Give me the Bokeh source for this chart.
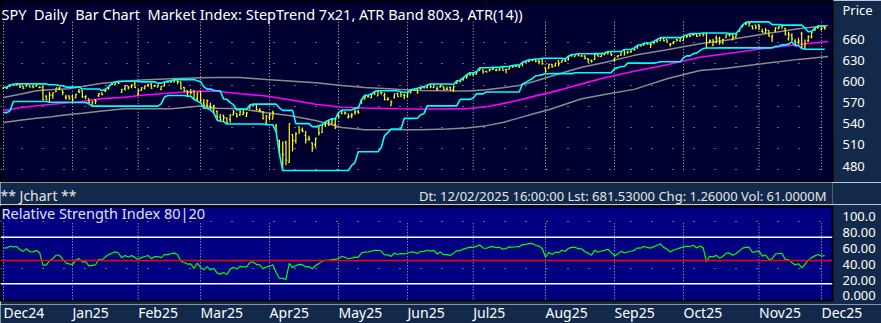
import numpy as np
import pandas as pd
from bokeh.plotting import figure
from bokeh.layouts import column, row
from bokeh.models import Range1d, FixedTicker, Label, Span
from bokeh.embed import file_html
from bokeh.resources import INLINE

FONT = "Noto Sans"
NAVY = "#13294B"
TOP_BG = "#000030"
RSI_BG = "#000080"

# ---------------- data ----------------
month_labels = ["Dec24", "Jan25", "Feb25", "Mar25", "Apr25", "May25", "Jun25",
                "Jul25", "Aug25", "Sep25", "Oct25", "Nov25", "Dec25"]
month_start = [0, 21, 41, 60, 81, 102, 123, 143, 165, 186, 207, 230, 249]

# Oct 2024 closes (only used to warm up the RSI)
warm_close = [568.6, 568.9, 567.8, 572.98, 567.8, 573.2, 577.1, 575.9, 579.6, 584.3, 579.8, 582.3,
              582.35, 584.6, 583.6, 583.3, 577.99, 579.2, 579.0, 580.8, 581.8, 580.0, 568.6]
# Nov 2024 bars (before the visible window, used to start the indicators)
pre_high = [575.5, 572.5, 576.7, 591.9, 596.7, 599.6, 600.2, 599.3, 599.2, 597.8,
            590.2, 589.5, 591.0, 590.8, 595.1, 596.2, 600.9, 601.3, 600.9, 603.4]
pre_low = [570.6, 567.9, 570.5, 585.4, 592.9, 596.2, 597.0, 594.4, 595.2, 592.7,
           583.9, 585.3, 584.6, 583.9, 587.5, 593.2, 595.4, 598.1, 597.1, 599.4]
pre_close = [571.0, 569.8, 576.7, 591.0, 595.6, 598.2, 598.8, 596.9, 597.2, 593.4,
             585.75, 588.15, 590.3, 590.5, 593.7, 595.5, 597.5, 600.65, 598.8, 602.55]

open_ = [
    # Dec 2024
    602.97, 603.4, 605.6, 607.7, 607.4, 607.7, 605.4, 605.8, 606.6, 606.4, 606.0, 604.2, 604.0, 591.4, 581.8, 590.9, 596.1, 599.5, 597.5, 587.9, 589.9,
    # Jan
    589.4, 587.5, 596.3, 597.4, 588.7, 585.9, 575.8, 584.4, 590.3, 594.2, 597.0, 600.7, 605.9, 605.8, 609.8, 594.8, 600.6, 603.7, 604.0, 607.5,
    # Feb
    592.7, 597.8, 600.6, 605.0, 606.9, 604.0, 602.5, 599.2, 604.5, 609.9, 610.9, 610.1, 611.5, 610.2, 602.0, 597.2, 595.9, 596.9, 585.6,
    # Mar
    596.2, 579.7, 576.7, 575.5, 570.9, 567.6, 559.4, 562.2, 558.5, 556.1, 562.8, 564.8, 562.8, 563.3, 559.3, 570.8, 575.3, 575.2, 567.2, 565.5, 549.8,
    # Apr
    557.5, 555.1, 545.1, 523.7, 489.2, 521.9, 493.4, 533.0, 523.9, 544.1, 539.7, 531.7, 527.6, 521.2, 519.1, 542.4, 535.9, 547.2, 551.4, 548.9, 547.6,
    # May
    560.4, 563.0, 563.4, 557.9, 560.1, 565.1, 566.5, 581.5, 583.4, 587.8, 585.6, 591.3, 588.1, 593.1, 588.4, 582.7, 574.2, 586.1, 592.0, 593.0, 588.9,
    # Jun
    587.8, 592.3, 597.0, 597.6, 598.7, 600.2, 600.0, 604.7, 600.0, 598.5, 600.9, 600.9, 598.0, 598.4, 595.0, 604.3, 607.9, 609.0, 612.9, 617.4,
    # Jul
    616.4, 617.2, 622.45, 623.4, 621.35, 622.8, 624.2, 622.7, 623.2, 627.5, 623.7, 624.4, 629.3, 628.8, 629.1, 631.55, 634.6, 635.1, 637.5, 638.35, 635.9, 639.5,
    # Aug
    626.3, 625.7, 631.3, 629.0, 636.2, 634.0, 637.5, 638.3, 644.6, 642.2, 645.9, 642.9, 643.1, 639.4, 636.3, 637.8, 644.6, 642.3, 644.6, 647.2, 647.5,
    # Sep
    637.5, 642.7, 644.4, 651.5, 648.6, 648.9, 653.6, 654.2, 657.6, 658.5, 661.6, 660.0, 662.6, 662.3, 662.9, 666.7, 664.5, 657.9, 659.5, 664.4, 662.9,
    # Oct
    663.2, 671.0, 670.0, 671.7, 672.5, 670.3, 673.5, 672.9, 660.6, 657.2, 666.8, 666.8, 659.5, 667.3, 671.4, 672.0, 668.1, 676.5, 682.9, 687.0, 688.7, 683.9, 685.0,
    # Nov
    685.7, 676.1, 674.0, 677.7, 667.9, 677.2, 679.9, 684.8, 680.5, 665.4, 669.7, 662.1, 660.8, 672.9, 655.1, 662.7, 668.4, 677.6, 680.9,
    # Dec 2025
    679.0, 681.7,
]
high = [
    604.3, 604.2, 607.9, 608.5, 609.1, 607.9, 605.8, 609.1, 607.2, 607.2, 607.8, 605.2, 606.4, 593.0, 595.75, 594.5, 601.3, 602.5, 597.8, 591.7, 590.6,
    591.1, 592.6, 599.7, 597.75, 590.6, 585.95, 581.8, 585.0, 593.9, 594.35, 599.4, 603.1, 607.8, 609.75, 610.8, 599.7, 605.4, 604.1, 606.6, 610.0,
    600.3, 602.3, 604.4, 606.4, 608.1, 605.5, 605.9, 604.55, 609.9, 611.0, 611.5, 613.2, 611.5, 610.3, 602.8, 597.9, 599.6, 598.0, 594.7,
    597.3, 585.4, 584.9, 580.2, 577.4, 569.5, 564.0, 563.1, 559.1, 563.8, 569.7, 565.0, 570.95, 570.6, 564.9, 575.2, 576.4, 576.3, 570.9, 566.3, 560.7,
    562.9, 567.4, 548.0, 525.9, 523.2, 524.2, 548.6, 533.5, 536.4, 544.3, 543.0, 537.9, 531.2, 521.7, 528.9, 545.4, 547.0, 551.0, 553.5, 555.5, 555.6,
    564.2, 568.0, 566.1, 563.0, 563.8, 570.6, 567.6, 583.0, 589.1, 589.0, 591.0, 594.5, 595.5, 594.05, 592.6, 586.6, 581.8, 591.3, 592.3, 593.2, 591.1,
    592.8, 597.1, 597.9, 599.0, 600.5, 601.0, 603.5, 605.1, 603.75, 601.9, 604.45, 601.8, 601.5, 599.5, 600.5, 607.85, 608.6, 612.3, 616.4, 619.2,
    618.8, 620.5, 626.3, 624.0, 622.1, 624.7, 626.9, 624.9, 625.2, 627.9, 624.7, 628.4, 629.5, 630.1, 629.1, 634.2, 636.0, 637.6, 638.0, 638.7, 637.7, 639.85,
    626.3, 631.2, 631.8, 633.0, 636.9, 637.65, 638.6, 642.85, 645.0, 645.5, 646.2, 644.0, 644.1, 639.65, 637.97, 646.5, 645.3, 645.1, 647.4, 649.5, 647.8,
    640.5, 644.2, 649.15, 652.2, 649.8, 650.9, 654.6, 658.3, 659.1, 661.0, 661.6, 662.0, 664.1, 664.6, 667.3, 667.3, 664.6, 659.3, 662.4, 665.3, 666.65,
    669.4, 671.0, 672.7, 673.2, 673.1, 673.2, 673.9, 673.95, 665.1, 665.8, 670.2, 668.7, 665.8, 672.2, 673.0, 672.0, 672.7, 678.5, 685.5, 688.9, 689.7, 684.4, 685.1,
    685.8, 680.0, 680.9, 677.9, 671.1, 682.2, 683.6, 685.0, 680.9, 675.6, 673.7, 665.1, 667.3, 675.6, 664.6, 670.6, 676.2, 681.0, 683.9,
    682.0, 684.0,
]
low = [
    602.1, 601.8, 604.9, 606.3, 607.0, 603.1, 601.4, 605.5, 604.3, 602.8, 605.2, 602.9, 585.9, 585.9, 580.9, 585.9, 595.5, 598.1, 590.8, 584.4, 584.4,
    580.5, 586.4, 593.6, 586.8, 585.2, 578.6, 575.35, 578.4, 588.2, 590.9, 595.6, 598.7, 605.4, 605.5, 606.8, 594.1, 597.25, 599.2, 600.7, 601.05,
    590.5, 597.3, 599.2, 602.6, 600.05, 602.7, 602.4, 598.5, 603.2, 609.1, 608.4, 609.6, 606.4, 599.5, 595.7, 589.6, 591.9, 584.65, 582.4,
    579.9, 572.25, 573.1, 570.1, 565.6, 555.6, 553.7, 553.2, 549.7, 551.5, 562.4, 559.1, 561.6, 562.6, 558.0, 570.1, 573.6, 567.2, 564.7, 554.7, 546.9,
    553.7, 554.8, 536.7, 505.1, 481.8, 489.1, 493.1, 509.3, 520.1, 533.9, 536.3, 520.3, 523.9, 508.5, 514.6, 531.6, 535.6, 543.6, 545.1, 547.0, 541.0,
    557.0, 561.9, 561.5, 556.0, 556.3, 561.3, 562.8, 577.0, 582.8, 585.5, 585.1, 589.3, 588.0, 589.6, 581.8, 581.4, 573.9, 584.5, 586.9, 586.1, 583.2,
    585.1, 591.9, 595.5, 591.05, 596.9, 598.6, 599.0, 599.0, 599.5, 595.5, 600.2, 596.8, 596.5, 593.6, 591.9, 603.4, 605.5, 608.4, 610.8, 615.0,
    615.4, 616.6, 622.4, 617.9, 619.5, 620.9, 623.0, 621.5, 621.8, 622.0, 618.05, 624.2, 626.5, 627.6, 625.9, 628.2, 633.7, 634.6, 635.5, 634.3, 631.5, 630.8,
    619.3, 625.1, 626.2, 628.1, 628.2, 633.7, 634.7, 636.8, 641.9, 642.2, 642.6, 642.2, 638.5, 632.95, 633.8, 637.25, 642.3, 641.7, 644.4, 645.3, 643.1,
    634.9, 640.5, 643.5, 643.3, 646.4, 647.2, 650.6, 653.6, 656.9, 658.0, 658.9, 654.5, 659.6, 660.4, 662.8, 662.0, 659.7, 654.3, 657.9, 661.9, 661.6,
    663.1, 666.8, 668.2, 669.9, 668.1, 669.4, 668.8, 652.8, 659.8, 655.0, 658.9, 657.1, 658.1, 667.3, 668.8, 663.3, 667.3, 675.7, 682.1, 684.8, 682.6, 679.7, 679.2,
    678.3, 674.6, 673.4, 668.7, 661.2, 675.0, 679.2, 680.0, 670.5, 663.3, 662.2, 655.9, 658.75, 651.9, 650.85, 661.2, 666.0, 676.6, 680.4,
    677.9, 678.6,
]
close = [
    603.6, 603.9, 607.7, 607.0, 607.8, 604.7, 602.8, 607.5, 604.3, 604.2, 606.8, 604.3, 586.3, 586.1, 591.15, 594.7, 601.3, 601.3, 595.0, 588.2, 586.1,
    584.6, 591.95, 595.4, 588.6, 589.5, 580.5, 581.4, 582.2, 592.8, 591.6, 597.6, 603.1, 606.4, 609.75, 607.97, 599.4, 604.5, 601.8, 605.0, 601.8,
    597.8, 601.8, 604.2, 606.3, 600.8, 604.85, 605.3, 603.4, 609.7, 609.7, 611.5, 612.9, 610.4, 599.9, 597.2, 594.2, 594.5, 585.05, 594.2,
    583.8, 576.9, 583.1, 572.7, 575.9, 560.6, 555.9, 558.9, 551.4, 562.8, 567.1, 561.0, 567.1, 565.5, 564.0, 574.1, 575.5, 568.6, 567.1, 555.7, 559.4,
    561.0, 564.5, 536.7, 505.3, 504.4, 496.5, 548.6, 524.6, 533.9, 539.1, 537.6, 525.7, 526.4, 513.9, 527.25, 535.4, 546.7, 550.6, 550.85, 554.3, 554.5,
    558.5, 566.8, 563.5, 558.8, 561.15, 565.1, 564.3, 583.0, 586.8, 587.6, 590.5, 594.2, 594.85, 592.85, 582.9, 583.1, 579.1, 591.15, 587.2, 590.1, 589.4,
    592.7, 596.1, 596.0, 593.05, 599.1, 599.7, 603.1, 601.4, 603.75, 597.0, 602.7, 597.5, 597.4, 594.3, 600.15, 606.8, 607.1, 611.9, 614.9, 617.85,
    617.65, 620.45, 625.3, 620.7, 620.3, 624.1, 625.0, 623.6, 624.8, 622.1, 624.2, 628.0, 627.6, 628.8, 628.9, 634.2, 634.4, 637.1, 636.9, 635.3, 634.5, 632.1,
    621.7, 631.2, 627.97, 632.8, 632.25, 637.2, 635.9, 642.7, 644.9, 644.95, 643.4, 643.3, 639.8, 638.1, 635.55, 645.3, 642.5, 645.2, 646.6, 648.9, 645.05,
    640.3, 643.7, 649.1, 647.2, 648.8, 650.3, 652.2, 657.6, 657.4, 660.9, 660.0, 659.2, 662.3, 663.7, 666.8, 663.2, 661.1, 658.05, 661.8, 663.7, 666.2,
    668.45, 669.2, 669.2, 671.6, 669.1, 673.1, 671.2, 653.0, 663.0, 662.2, 665.2, 660.6, 664.4, 671.3, 671.3, 667.8, 671.8, 677.25, 685.2, 687.06, 687.4, 679.8, 682.06,
    683.3, 675.2, 677.6, 669.9, 670.97, 681.4, 683.0, 683.4, 672.0, 671.9, 665.7, 660.1, 662.6, 652.5, 659.0, 668.7, 675.0, 679.7, 683.4,
    680.27, 681.53,
]

# dividends: (bar index of ex-date, amount) -> chart shows dividend-adjusted prices
dividends = [(14, 1.966), (74, 1.736), (136, 1.761), (199, 1.831)]

# ATR band 80x3: bar index, value
band_idx = [0, 5, 10, 14, 20, 24, 30, 37, 42, 51, 60, 65, 72, 80, 87, 95, 103, 110, 120, 127,
            135, 141, 147, 152, 157, 162, 166, 171, 176, 183, 192, 202, 212, 220, 232, 242, 251]
band_mid = [564.0, 567.9, 570.8, 572.6, 575.0, 576.8, 580.9, 582.9, 585.6, 588.8, 591.5, 591.4, 587.7, 584.6, 579.2, 573.0, 568.7, 567.6, 566.6, 566.2,
            566.3, 566.5, 569.4, 573.8, 579.0, 584.8, 589.0, 595.2, 601.8, 610.4, 619.6, 628.8, 639.6, 644.4, 652.3, 657.6, 661.8]
band_up = [582.5, 587.0, 592.0, 593.6, 595.0, 598.1, 602.6, 605.6, 607.3, 609.0, 610.4, 610.7, 610.8, 608.1, 606.0, 603.3, 599.5, 596.6, 594.0, 592.4,
           591.9, 591.7, 593.5, 596.3, 599.6, 605.8, 611.5, 618.5, 625.4, 632.1, 642.2, 650.1, 658.6, 663.7, 672.8, 679.8, 684.5]
band_dn = [547.0, 550.2, 553.0, 554.8, 558.4, 560.2, 563.2, 566.5, 566.5, 566.5, 570.4, 567.3, 566.5, 561.0, 557.0, 550.0, 540.0, 536.7, 536.7, 536.7,
           537.7, 539.3, 542.6, 547.0, 553.6, 560.2, 565.0, 573.0, 580.6, 586.7, 594.0, 609.0, 620.7, 624.0, 631.1, 636.5, 640.6]

price_grid = [480, 510, 540, 570, 600, 630, 660]
price_tick_labels = {486: "480", 516: "510", 546: "540", 576: "570", 606: "600",
                     636: "630", 666: "660", 713: "Price"}
rsi_tick_labels = {5: "0.000", 24: "20.00", 45: "40.00", 65: "60.00", 86: "80.00", 107: "100.0"}
rsi_grid = [40, 100]
rsi_lines = [80, 20]
rsi_mid = 50
RSI_N = 20

title_text = "SPY\u00a0 Daily\u00a0 Bar Chart\u00a0 Market Index: StepTrend 7x21, ATR Band 80x3, ATR(14))"
status_left = "** Jchart **"
status_right = "Dt: 12/02/2025 16:00:00 Lst: 681.53000 Chg: 1.26000 Vol: 61.0000M"
rsi_title = "Relative Strength Index 80|20"

# ---------------- processing ----------------
n_warm, n_pre = len(warm_close), len(pre_close)
C_all = np.array(warm_close + pre_close + close, float)
factor = np.ones(len(C_all))
for ex, amt in dividends:
    k = ex + n_warm + n_pre
    factor[:k] *= 1.0 - amt / C_all[k - 1]
C_all = C_all * factor
f = factor[n_warm:]
H = np.array(pre_high + high, float) * f
L = np.array(pre_low + low, float) * f
O = np.concatenate([np.full(n_pre, np.nan), np.array(open_, float)]) * f

up_step = pd.Series(H).rolling(7).max().values[n_pre:]
dn_step = pd.Series(L).rolling(21).min().values[n_pre:]


def wilder_rsi(x, n):
    d = np.diff(x)
    g = np.where(d > 0, d, 0.0)
    l_ = np.where(d < 0, -d, 0.0)
    out = np.full(len(x), np.nan)
    ag, al = g[:n].mean(), l_[:n].mean()
    out[n] = 100 - 100 / (1 + ag / al)
    for i in range(n, len(d)):
        ag = (ag * (n - 1) + g[i]) / n
        al = (al * (n - 1) + l_[i]) / n
        out[i + 1] = 100 - 100 / (1 + ag / al)
    return out


rsi = wilder_rsi(C_all, RSI_N)[n_warm + n_pre:]
hi, lo, op = H[n_pre:], L[n_pre:], O[n_pre:]
cl = C_all[n_warm + n_pre:]
idx = np.arange(len(cl))

# ---------------- figures ----------------
X0, X1 = -0.913, 252.37          # 832 px wide panels
xr = Range1d(X0, X1)


def base_fig(h, yr, bg, mbt=0, mbb=0):
    p = figure(width=881, height=h, x_range=xr, y_range=yr, output_backend="svg",
               toolbar_location=None, tools="", x_axis_location=None,
               y_axis_location="right",
               min_border_left=0, min_border_right=49,
               min_border_top=mbt, min_border_bottom=mbb)
    p.background_fill_color = bg
    p.border_fill_color = NAVY
    p.outline_line_color = "black"
    p.outline_line_width = 2
    p.xgrid.grid_line_color = None
    ax = p.yaxis[0]
    ax.axis_line_color = None
    ax.major_tick_line_color = None
    ax.minor_tick_line_color = None
    ax.major_label_text_color = "white"
    ax.major_label_text_font = FONT
    ax.major_label_text_font_size = "13px"
    ax.major_label_standoff = 4
    return p


def bare_fig(h, x_range, y_range, mbr):
    p = figure(width=881, height=h, x_range=x_range, y_range=y_range,
               output_backend="svg", toolbar_location=None, tools="",
               x_axis_location=None, y_axis_location=None,
               min_border_left=0, min_border_right=mbr, min_border_top=0, min_border_bottom=0)
    p.background_fill_color = NAVY
    p.border_fill_color = NAVY
    p.outline_line_color = None
    p.xgrid.grid_line_color = None
    p.ygrid.grid_line_color = None
    return p


def label(p, x, y, text, color="white", size="14px", align="left"):
    p.add_layout(Label(x=x, y=y, text=text, text_color=color, text_font=FONT,
                       text_font_size=size, text_align=align, text_baseline="middle"))


# --- price panel
p1 = base_fig(182, Range1d(462.0, 719.95), TOP_BG)
p1.yaxis.ticker = FixedTicker(ticks=list(price_tick_labels.keys()))
p1.yaxis.major_label_overrides = price_tick_labels
p1.ygrid.ticker = FixedTicker(ticks=price_grid)
p1.ygrid.grid_line_color = "#C8C8C8"
p1.ygrid.grid_line_dash = "1 20"
p1.segment(x0=month_start, y0=480, x1=month_start, y1=690, line_color="#C8C8C8",
           line_width=1, line_dash="1 2")

p1.line(band_idx, band_up, line_color="#8C8C8C", line_width=1.5)
p1.line(band_idx, band_dn, line_color="#8C8C8C", line_width=1.5)
p1.line(band_idx, band_mid, line_color="#FF00FF", line_width=1.6)

p1.segment(x0=idx, y0=lo, x1=idx, y1=hi, line_color="#FFFF00", line_width=1.2)
p1.segment(x0=idx - 0.35, y0=op, x1=idx, y1=op, line_color="#FFFF00", line_width=1.2)
p1.segment(x0=idx, y0=cl, x1=idx + 0.35, y1=cl, line_color="#FFFF00", line_width=1.2)

p1.line(idx, up_step, line_color="#00FFFF", line_width=1.6)
p1.line(idx, dn_step, line_color="#00FFFF", line_width=1.6)

label(p1, -0.6, 700.5, title_text, size="14.5px")

# --- status strip (frame is aligned with the panels: 832 px wide)
p2 = bare_fig(22, Range1d(0, 832), Range1d(0, 22), 49)
label(p2, 0, 8.8, status_left, color="#E6E6E6", size="14px")
label(p2, 826, 8.8, status_right, color="#E6E6E6", size="13px", align="right")

# --- RSI panel
p3 = base_fig(100, Range1d(-1.5, 119.5), RSI_BG, mbt=2, mbb=4)
p3.yaxis.ticker = FixedTicker(ticks=list(rsi_tick_labels.keys()))
p3.yaxis.major_label_overrides = rsi_tick_labels
p3.ygrid.ticker = FixedTicker(ticks=rsi_grid)
p3.ygrid.grid_line_color = "#C8C8C8"
p3.ygrid.grid_line_dash = "1 20"
p3.segment(x0=month_start, y0=0, x1=month_start, y1=100, line_color="#C8C8C8",
           line_width=1, line_dash="1 2")
for lv in rsi_lines:
    p3.add_layout(Span(location=lv, dimension="width", line_color="white", line_width=1.5))
p3.add_layout(Span(location=rsi_mid, dimension="width", line_color="#FF0000", line_width=1.5))
p3.line(idx, rsi, line_color="#00FF00", line_width=1.2)
label(p3, -0.6, 110.6, rsi_title, color="#E0E0E0", size="14.5px")

# --- month labels: full-width frame, same px-per-bar scale as the panels
px_per_bar = 832.0 / (X1 - X0)
p4 = bare_fig(19, Range1d(X0, X0 + 881.0 / px_per_bar), Range1d(0, 19), 0)
for m, lab in zip(month_start, month_labels):
    label(p4, m, 10.8, lab)

layout = column(p1, p2, p3, row(p4), spacing=0)
open("out.html", "w").write(file_html(layout, INLINE))
